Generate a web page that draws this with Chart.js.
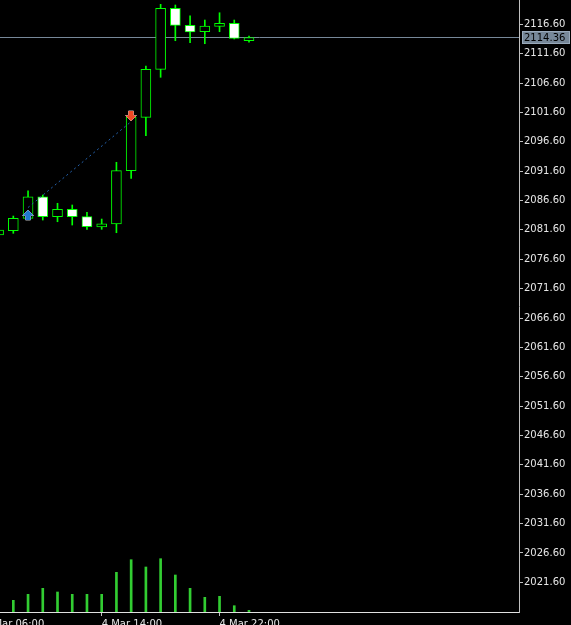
<!DOCTYPE html>
<html>
<head>
<meta charset="utf-8">
<script src="https://cdn.jsdelivr.net/npm/chart.js@4"></script>
<style>
  html, body { margin: 0; padding: 0; background: #000; }
  #wrap { width: 571px; height: 625px; position: relative; }
</style>
</head>
<body>
<div id="wrap"><canvas id="chart"></canvas></div>
<script>
// hourly candles, 4 Mar (hour 24 = 5 Mar 00:00)
const hours  = [7, 8, 9, 10, 11, 12, 13, 14, 15, 16, 17, 18, 19, 20, 21, 22, 23, 24];
const opens  = [2080.73, 2081.46, 2083.57, 2087.25, 2083.85, 2085.11, 2083.85, 2082.09, 2082.60, 2091.68, 2100.77, 2108.94, 2119.32, 2116.43, 2115.34, 2116.26, 2116.77, 2113.81];
const highs  = [2081.75, 2083.96, 2088.27, 2087.54, 2086.13, 2085.84, 2084.59, 2083.45, 2093.11, 2101.67, 2109.50, 2120.00, 2119.89, 2118.06, 2117.33, 2118.57, 2117.33, 2114.61];
const lows   = [2080.55, 2081.02, 2083.37, 2083.28, 2082.99, 2082.43, 2081.70, 2081.70, 2081.12, 2090.38, 2097.63, 2107.58, 2113.81, 2113.47, 2113.30, 2115.34, 2114.10, 2113.54];
const closes = [2081.58, 2083.57, 2087.25, 2083.85, 2085.11, 2083.85, 2082.14, 2082.65, 2091.68, 2100.77, 2108.94, 2119.32, 2116.43, 2115.29, 2116.31, 2116.77, 2114.22, 2114.36];
const volumes = [300, 234, 354, 474, 400, 354, 354, 354, 794, 1046, 900, 1066, 740, 474, 294, 314, 126, 34];

const priceTicks = [2021.6, 2026.6, 2031.6, 2036.6, 2041.6, 2046.6, 2051.6, 2056.6, 2061.6, 2066.6,
                    2071.6, 2076.6, 2081.6, 2086.6, 2091.6, 2096.6, 2101.6, 2106.6, 2111.6, 2116.6];
const timeTicks  = [6, 14, 22];
const timeLabels = ['4 Mar 06:00', '4 Mar 14:00', '4 Mar 22:00'];

// trade: buy at 09:00, closed at 16:00
const tradeHours  = [9, 16];
const tradePrices = [2085.41, 2100.05];
const bidPrice = 2114.36;

const LIME = '#00ff00';
const AXIS = '#c0c0c0';
const TEXT = '#e6e6e6';
const FONT = { family: 'DejaVu Sans', size: 10 };

const bull = opens.map((o, i) => closes[i] >= o);

function arrow(ctx, x, tip, dir, fill) {
  // dir = -1 points up (tip on top), 1 points down
  const d = -dir;
  ctx.beginPath();
  ctx.moveTo(x, tip);
  ctx.lineTo(x + 5.5, tip + 5.5 * d);
  ctx.lineTo(x + 2.5, tip + 5.5 * d);
  ctx.lineTo(x + 2.5, tip + 10 * d);
  ctx.lineTo(x - 2.5, tip + 10 * d);
  ctx.lineTo(x - 2.5, tip + 5.5 * d);
  ctx.lineTo(x - 5.5, tip + 5.5 * d);
  ctx.closePath();
  ctx.strokeStyle = '#b8b8b8';
  ctx.lineWidth = 1;
  ctx.stroke();
  ctx.fillStyle = fill;
  ctx.fill();
}

const overlay = {
  id: 'overlay',
  beforeDatasetsDraw(chart) {
    const { ctx, chartArea, scales } = chart;
    const py = Math.round(scales.y.getPixelForValue(bidPrice)) + 0.5;
    ctx.save();
    ctx.strokeStyle = '#778899';
    ctx.lineWidth = 1;
    ctx.beginPath();
    ctx.moveTo(chartArea.left, py);
    ctx.lineTo(chartArea.right, py);
    ctx.stroke();
    ctx.restore();
  },
  afterDatasetsDraw(chart) {
    const { ctx, scales } = chart;
    ctx.save();
    const x0 = scales.x.getPixelForValue(tradeHours[0]);
    const y0 = scales.y.getPixelForValue(tradePrices[0]);
    arrow(ctx, Math.round(x0), Math.round(y0) + 2, -1, '#1f78d1');
    const x1 = scales.x.getPixelForValue(tradeHours[1]);
    const y1 = scales.y.getPixelForValue(tradePrices[1]);
    arrow(ctx, Math.round(x1), Math.round(y1) - 1, 1, '#f04a24');
    ctx.restore();
  },
  afterDraw(chart) {
    const { ctx, scales } = chart;
    const py = Math.round(scales.y.getPixelForValue(bidPrice));
    const left = scales.y.left + 3;
    ctx.save();
    ctx.fillStyle = '#778899';
    ctx.fillRect(left, py - 6, 48, 13);
    ctx.strokeStyle = '#9aaabb';
    ctx.strokeRect(left + 0.5, py - 5.5, 47, 12);
    ctx.fillStyle = '#000';
    ctx.font = '10px "DejaVu Sans"';
    ctx.textBaseline = 'middle';
    ctx.fillText(bidPrice.toFixed(2), left + 2, py + 1);
    ctx.restore();
  }
};

new Chart(document.getElementById('chart'), {
  type: 'bar',
  data: {
    datasets: [
      {
        type: 'line',
        data: tradeHours.map((h, i) => ({ x: h, y: tradePrices[i] })),
        borderColor: '#2462ad',
        borderWidth: 1,
        borderDash: [2, 3],
        pointRadius: 0,
        order: 0
      },
      {
        data: hours.map((h, i) => ({ x: h, y: [opens[i], closes[i]] })),
        backgroundColor: bull.map(b => b ? '#000000' : '#ffffff'),
        borderColor: LIME,
        borderWidth: 1,
        borderSkipped: false,
        barThickness: 10,
        grouped: false,
        order: 1
      },
      {
        data: hours.map((h, i) => ({ x: h, y: [lows[i], highs[i]] })),
        backgroundColor: LIME,
        borderWidth: 0,
        barThickness: 1,
        grouped: false,
        order: 2
      },
      {
        data: hours.map((h, i) => ({ x: h, y: volumes[i] })),
        yAxisID: 'yv',
        backgroundColor: '#32cd32',
        borderWidth: 0,
        barThickness: 2,
        grouped: false,
        order: 3
      }
    ]
  },
  options: {
    responsive: true,
    maintainAspectRatio: false,
    animation: false,
    layout: { padding: 0 },
    plugins: { legend: { display: false }, tooltip: { enabled: false } },
    scales: {
      x: {
        type: 'linear',
        min: 7.096,
        max: 42.33,
        offset: false,
        bounds: 'data',
        grid: { drawOnChartArea: false, offset: false, tickLength: 4, color: AXIS },
        border: { color: '#e0e0e0' },
        afterBuildTicks: s => { s.ticks = timeTicks.map(v => ({ value: v })); },
        afterFit: s => { s.height = 13; s.paddingLeft = 0; s.paddingRight = 0; },
        ticks: {
          autoSkip: false,
          maxRotation: 0,
          align: 'start',
          padding: 2,
          color: TEXT,
          font: FONT,
          callback: v => timeLabels[timeTicks.indexOf(v)]
        }
      },
      y: {
        position: 'right',
        min: 2016.55,
        max: 2120.74,
        bounds: 'data',
        grid: { drawOnChartArea: false, tickLength: 4, color: AXIS },
        border: { color: AXIS },
        afterBuildTicks: s => { s.ticks = priceTicks.map(v => ({ value: v })); },
        afterFit: s => { s.width = 52; s.paddingTop = 0; s.paddingBottom = 0; },
        ticks: {
          autoSkip: false,
          padding: 1,
          color: TEXT,
          font: FONT,
          callback: v => v.toFixed(2)
        }
      },
      yv: {
        display: false,
        min: 0,
        max: 12240
      }
    }
  },
  plugins: [overlay]
});
</script>
</body>
</html>
